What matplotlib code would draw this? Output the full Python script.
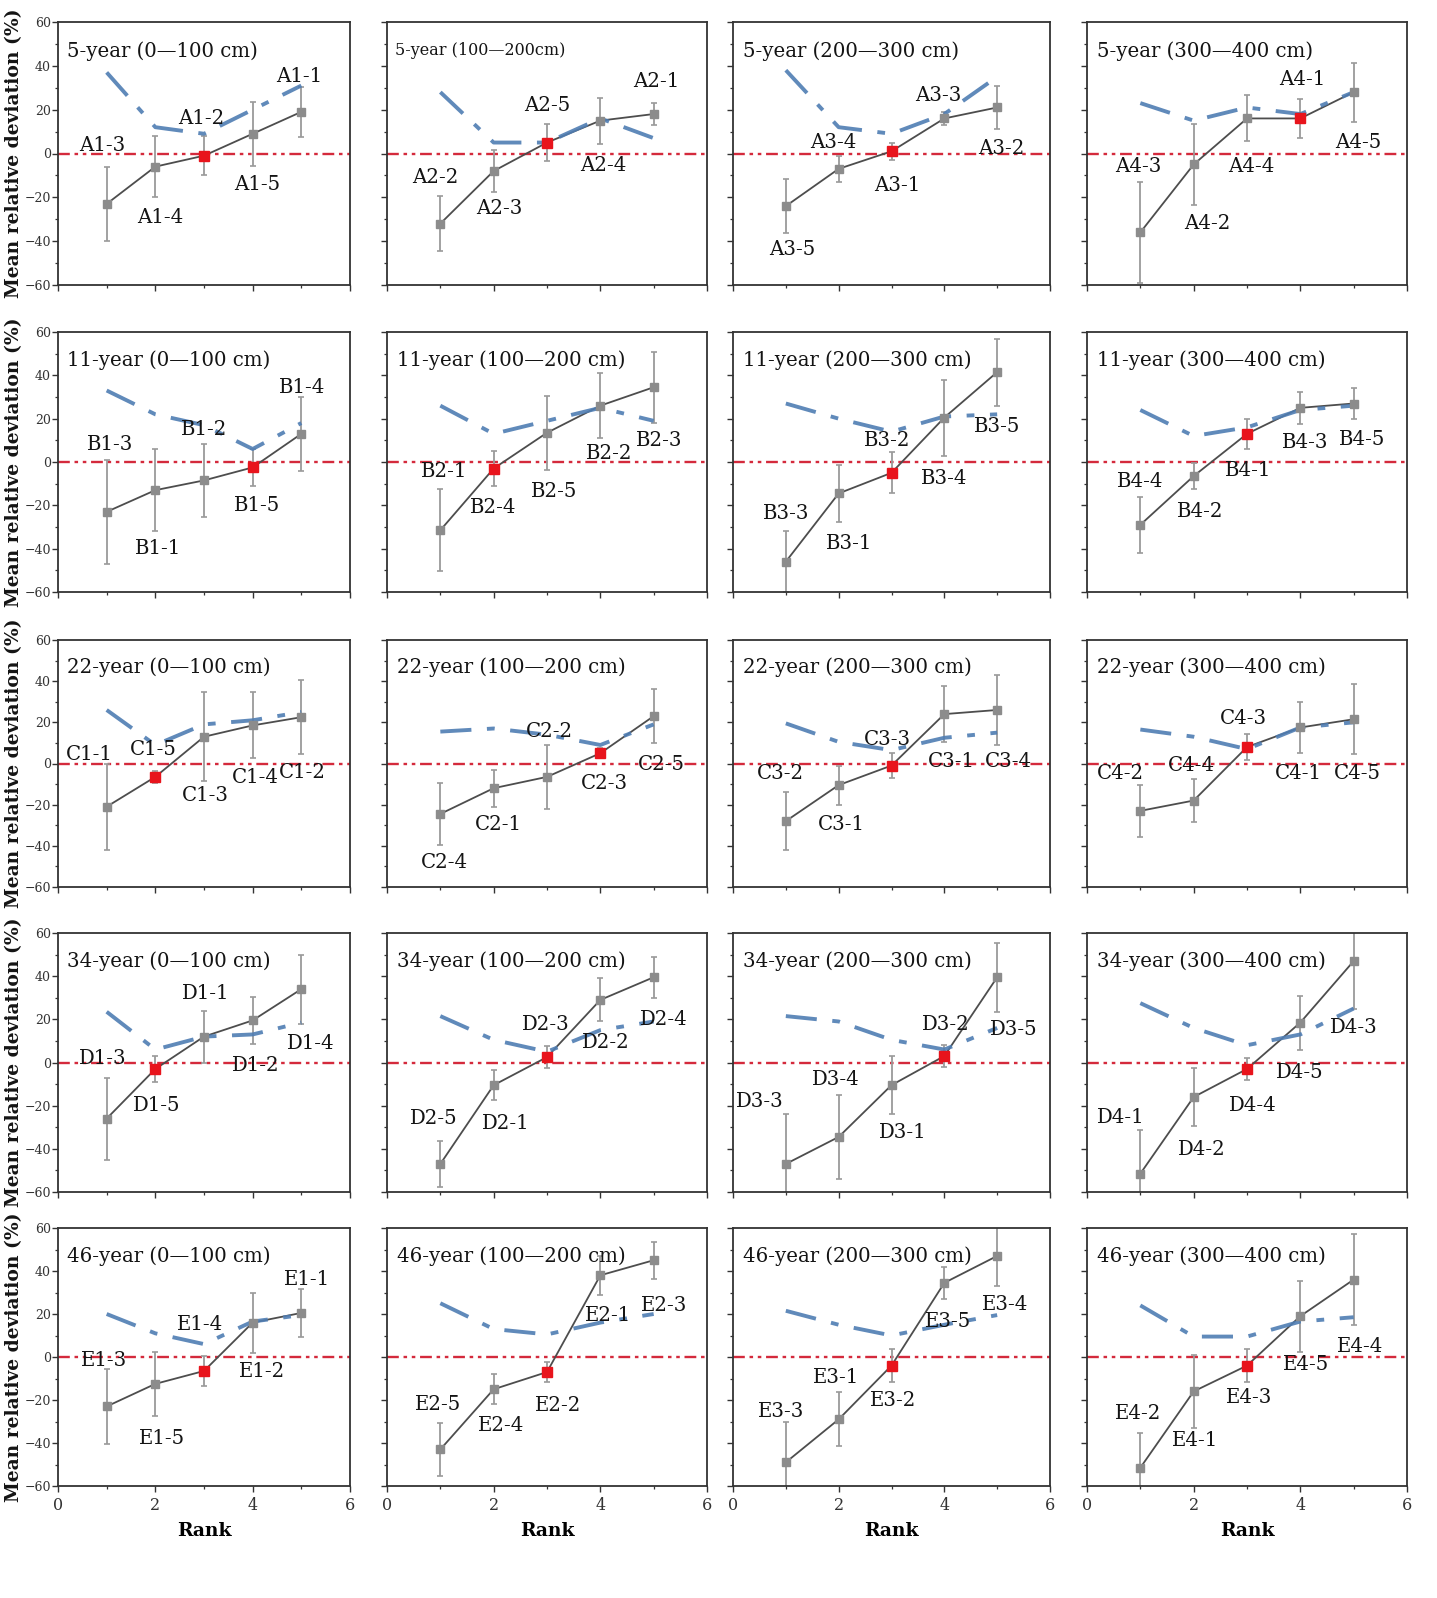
import matplotlib
matplotlib.use("Agg")
import matplotlib.pyplot as plt
from matplotlib.ticker import MultipleLocator

ranks = [1, 2, 3, 4, 5]
years = ["5-year", "11-year", "22-year", "34-year", "46-year"]
depths = ["0\u2014100 cm", "100\u2014200 cm", "200\u2014300 cm", "300\u2014400 cm"]

# mean relative deviation per panel (row-major: A1..A4, B1..B4, ...)
means = [
    [-23, -6, -1, 9, 19], [-32, -8, 5, 15, 18], [-24, -7, 1, 16, 21], [-36, -5, 16, 16, 28],
    [-23, -13, -8.5, -2.5, 13], [-31.5, -3, 13.5, 26, 34.5], [-46, -14.5, -5, 20.5, 41.5], [-29, -6.5, 13, 25, 27],
    [-21, -6.5, 13, 18.5, 22.5], [-24.5, -12, -6.5, 5, 23], [-28, -10.5, -1, 24, 26], [-23, -18, 8, 17.5, 21.5],
    [-26, -3, 12, 19.5, 34], [-47, -10.5, 2.5, 29, 39.5], [-47, -34.5, -10.5, 3, 39.5], [-51.5, -16, -3, 18.5, 47],
    [-23, -12.5, -6.5, 16, 20.5], [-43, -15, -7, 38, 45], [-49, -29, -4, 34.5, 47], [-51.5, -16, -4, 19, 36],
]
errors = [
    [17, 14, 9, 14.5, 11.5], [12.5, 9.5, 8.5, 10.5, 5], [12.5, 6, 4, 3, 10], [23, 18.5, 10.5, 8.7, 13.5],
    [24, 19, 17, 8.5, 17], [19, 8, 17, 15, 16.5], [14, 13, 9.5, 17.5, 15.5], [13, 6, 7, 7.5, 7],
    [21, 3, 21.5, 16, 18], [15, 9, 15.5, 2.5, 13], [14, 9.5, 6, 13.5, 17], [12.5, 10.5, 6.5, 12.5, 17],
    [19, 6, 12, 11, 16], [10.5, 7, 5, 10, 9.5], [23, 19.5, 13.5, 5, 16], [20, 13.5, 5, 12.5, 22],
    [17.5, 15, 7, 14, 11], [12.5, 7, 4.5, 9, 8.7], [19, 12.5, 7.5, 7.5, 14], [16, 17, 7.5, 16.5, 21],
]
# blue dash-dot curve
fit = [
    [37, 12, 9, 20, 31], [28, 5, 5, 16, 7], [38, 12, 9, 18, 35], [23, 15, 21, 18, 28],
    [33, 22, 17, 6, 18], [26, 13, 19, 25, 19], [27, 20, 14, 21, 22], [24, 12, 16, 24, 26],
    [26, 9, 19, 21, 25], [15.5, 17, 14, 9, 19], [19.5, 10.5, 6.5, 12.5, 15], [16.5, 13, 7, 17.5, 20],
    [23.5, 6, 12, 13, 18.5], [21.5, 10.5, 5, 15, 19], [21.5, 19, 10.5, 6, 16], [27.5, 16, 8, 13, 25],
    [20, 11, 6, 16.5, 19.5], [25, 13, 10.5, 16, 20], [21.5, 15, 10, 15, 19.5], [24, 9.5, 9.5, 16.5, 18.5],
]
# rank of the highlighted (red) point
red_rank = [3, 3, 3, 4,
            4, 2, 3, 3,
            2, 4, 3, 3,
            2, 3, 4, 3,
            3, 3, 3, 3]
# point labels
point_labels = [
    ["A1-3", "A1-4", "A1-2", "A1-5", "A1-1"], ["A2-2", "A2-3", "A2-5", "A2-4", "A2-1"],
    ["A3-5", "A3-4", "A3-1", "A3-3", "A3-2"], ["A4-3", "A4-2", "A4-4", "A4-1", "A4-5"],
    ["B1-3", "B1-1", "B1-2", "B1-5", "B1-4"], ["B2-1", "B2-4", "B2-5", "B2-2", "B2-3"],
    ["B3-3", "B3-1", "B3-2", "B3-4", "B3-5"], ["B4-4", "B4-2", "B4-1", "B4-3", "B4-5"],
    ["C1-1", "C1-5", "C1-3", "C1-4", "C1-2"], ["C2-4", "C2-1", "C2-2", "C2-3", "C2-5"],
    ["C3-2", "C3-1", "C3-3", "C3-1", "C3-4"], ["C4-2", "C4-4", "C4-3", "C4-1", "C4-5"],
    ["D1-3", "D1-5", "D1-1", "D1-2", "D1-4"], ["D2-5", "D2-1", "D2-3", "D2-2", "D2-4"],
    ["D3-3", "D3-4", "D3-1", "D3-2", "D3-5"], ["D4-1", "D4-2", "D4-4", "D4-5", "D4-3"],
    ["E1-3", "E1-5", "E1-4", "E1-2", "E1-1"], ["E2-5", "E2-4", "E2-2", "E2-1", "E2-3"],
    ["E3-3", "E3-1", "E3-2", "E3-5", "E3-4"], ["E4-2", "E4-1", "E4-3", "E4-5", "E4-4"],
]
# label placement (data coordinates)
label_pos = [
    [(0.9, 3.5), (2.1, -29), (2.95, 16), (4.1, -14), (4.95, 35)],
    [(0.91, -11), (2.1, -25), (3.0, 22), (4.05, -5.5), (5.05, 33)],
    [(1.13, -43.7), (1.89, 4.8), (3.1, -14.6), (3.88, 26.4), (5.07, 2.2)],
    [(0.96, -5.8), (2.25, -32), (3.09, -5.8), (4.03, 33.6), (5.08, 4.8)],
    [(1.07, 8.2), (2.05, -39.7), (3.0, 15), (4.09, -20), (5.02, 34.5)],
    [(1.07, -4.2), (2.0, -21), (3.13, -13.5), (4.16, 3.7), (5.1, 9.7)],
    [(1.0, -23.6), (2.19, -37.6), (2.91, 10), (4.0, -7.4), (5.0, 16.2)],
    [(0.99, -9.2), (2.12, -23), (3.02, -3.7), (4.09, 9), (5.15, 10.5)],
    [(0.65, 4.2), (1.95, 6.6), (3.02, -15.4), (4.05, -6.7), (5.02, -4.4)],
    [(1.07, -48), (2.08, -29.7), (3.04, 15.7), (4.07, -9.7), (5.14, -0.5)],
    [(0.89, -4.9), (2.06, -29.4), (2.93, 11.9), (4.14, 1.2), (5.22, 1.2)],
    [(0.62, -4.8), (1.95, -1), (2.93, 22), (3.96, -4.8), (5.07, -4.8)],
    [(0.91, 2), (2.02, -20), (3.04, 31.8), (4.06, -1.4), (5.2, 8.9)],
    [(0.88, -26), (2.22, -28.3), (2.97, 17.6), (4.1, 9.2), (5.19, 19.9)],
    [(0.51, -17.9), (1.94, -7.9), (3.22, -32.6), (4.03, 17.4), (5.31, 15.5)],
    [(0.64, -25.7), (2.15, -40.5), (3.1, -19.9), (3.99, -4.6), (5.0, 16)],
    [(0.95, -1.4), (2.13, -38), (2.91, 14.9), (4.19, -6.8), (5.11, 35.9)],
    [(0.96, -22.2), (2.14, -32), (3.2, -22.5), (4.15, 19.4), (5.2, 23.8)],
    [(0.92, -25.4), (1.96, -9.4), (3.03, -20.3), (4.07, 16.7), (5.15, 24.3)],
    [(0.95, -26.3), (2.02, -38.7), (3.04, -19), (4.1, -3.6), (5.12, 5.1)],
]

W, H = 1437, 1598
col_lr = [(58, 350), (387, 707), (733, 1050), (1087, 1407)]
row_tb = [(22, 285), (332, 592), (640, 887), (933, 1192), (1228, 1486)]

SERIF = ["DejaVu Serif"]
plt.rcParams["font.family"] = SERIF

fig = plt.figure(figsize=(W / 100, H / 100), dpi=100)

for i in range(5):
    for j in range(4):
        k = i * 4 + j
        l, r = col_lr[j]
        t, b = row_tb[i]
        ax = fig.add_axes([l / W, 1 - b / H, (r - l) / W, (b - t) / H])
        ax.set_xlim(0, 6)
        ax.set_ylim(-60, 60)
        ax.axhline(0, color="#d42a3c", lw=1.7, dashes=(5, 2, 1.5, 2, 1.5, 2), zorder=1)
        ax.plot(ranks, means[k], color="#4d4d4d", lw=1.3, zorder=2)
        ax.errorbar(ranks, means[k], yerr=errors[k], fmt="none", ecolor="#9a9a9a",
                    elinewidth=1.3, capsize=2.5, capthick=1.2, zorder=2)
        ax.plot(ranks, fit[k], color="#4f7db3", lw=2.8, dashes=(8, 4, 2, 4),
                alpha=0.9, zorder=3)
        ax.plot(ranks, means[k], "s", color="#8c8c8c", ms=6, zorder=4)
        rr = red_rank[k]
        ax.plot([rr], [means[k][rr - 1]], "s", color="#e8141c", ms=6.5, zorder=5)
        for txt, (lx, ly) in zip(point_labels[k], label_pos[k]):
            ax.text(lx, ly, txt, ha="center", va="center", fontsize=14.2,
                    color="#141414", zorder=6)
        if k == 1:
            title = f"{years[i]} (100\u2014200cm)"
            ax.text(0.025, 0.89, title, transform=ax.transAxes, fontsize=11.5,
                    ha="left", va="center", color="#141414")
        else:
            title = f"{years[i]} ({depths[j]})"
            ax.text(0.03, 0.89, title, transform=ax.transAxes, fontsize=14.2,
                    ha="left", va="center", color="#141414")
        ax.xaxis.set_major_locator(MultipleLocator(2))
        ax.xaxis.set_minor_locator(MultipleLocator(1))
        ax.yaxis.set_major_locator(MultipleLocator(20))
        ax.yaxis.set_minor_locator(MultipleLocator(10))
        ax.tick_params(which="major", direction="out", length=4, width=1, colors="#333333")
        ax.tick_params(which="minor", direction="out", length=2.5, width=0.9, colors="#333333")
        for s in ax.spines.values():
            s.set_linewidth(1.3)
            s.set_color("#333333")
        if j == 0:
            ax.tick_params(axis="y", labelsize=9, pad=1)
        else:
            ax.tick_params(axis="y", labelleft=False)
        if i == 4:
            ax.tick_params(axis="x", labelsize=11.5, pad=4)
            ax.set_xlabel("Rank", fontsize=13.5, fontweight="bold", labelpad=6)
        else:
            ax.tick_params(axis="x", labelbottom=False)

    t, b = row_tb[i]
    fig.text(14 / W, 1 - (t + b) / 2 / H, "Mean relative deviation (%)", rotation=90,
             ha="center", va="center", fontsize=13.5, fontweight="bold", color="#141414")

fig.savefig("out.png", dpi=100, facecolor="white")
